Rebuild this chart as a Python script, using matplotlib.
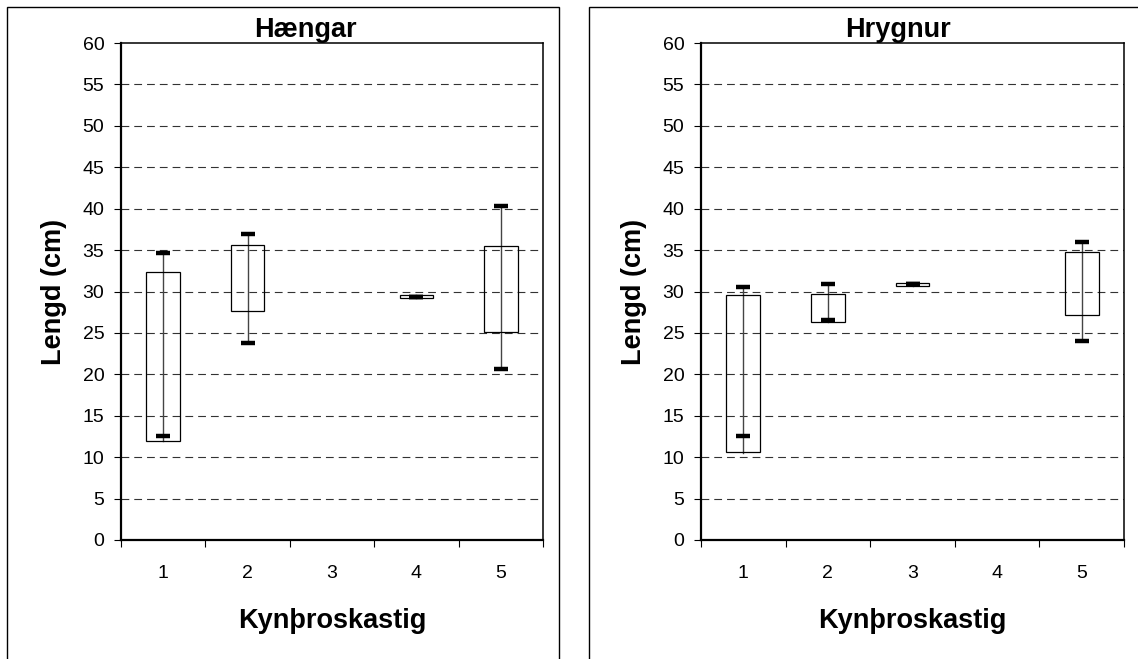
import numpy as np
import matplotlib
matplotlib.use('Agg')
import matplotlib.pyplot as plt
from matplotlib.patches import Rectangle

plt.rcParams['font.family'] = ['Liberation Sans', 'DejaVu Sans']

# kynþroskastig 1-5, NaN = engin gögn
stig = [1, 2, 3, 4, 5]

# hængar
h_box_lo = [12.0, 27.7, np.nan, 29.2, 25.1]
h_box_hi = [32.3, 35.6, np.nan, 29.6, 35.5]
h_line_lo = [12.0, 23.8, np.nan, 29.2, 20.7]
h_line_hi = [34.6, 37.0, np.nan, 29.6, 40.3]
h_mark_lo = [12.6, 23.8, np.nan, 29.35, 20.7]
h_mark_hi = [34.6, 37.0, np.nan, 29.35, 40.3]

# hrygnur
r_box_lo = [10.6, 26.35, 30.7, np.nan, 27.2]
r_box_hi = [29.55, 29.75, 31.05, np.nan, 34.75]
r_line_lo = [10.5, 26.35, 30.7, np.nan, 24.0]
r_line_hi = [30.6, 30.85, 31.05, np.nan, 36.0]
r_mark_lo = [12.5, 26.5, 30.85, np.nan, 24.0]
r_mark_hi = [30.6, 30.85, 30.85, np.nan, 36.0]

yticks = list(range(0, 61, 5))

W, H = 1138, 659
fig = plt.figure(figsize=(W / 100, H / 100), dpi=100)

# rammar utan um hvora mynd (neðri brún utan myndar)
fig.patches.append(Rectangle((7 / W, -0.1), 552 / W, (H - 7) / H + 0.1,
                             transform=fig.transFigure, fill=False, lw=1.0, ec='black'))
fig.patches.append(Rectangle((589 / W, -0.1), 0.6, (H - 7) / H + 0.1,
                             transform=fig.transFigure, fill=False, lw=1.0, ec='black'))


def teikna(ax, titill, tx, box_lo, box_hi, line_lo, line_hi, mark_lo, mark_hi):
    for y in yticks[1:-1]:
        ax.axhline(y, color='#333333', lw=0.8, ls=(0, (7, 4.5)), zorder=1)
    for i, x in enumerate(stig):
        if np.isnan(box_lo[i]):
            continue
        ax.plot([x, x], [line_lo[i], line_hi[i]], color='#444444', lw=1.0, zorder=2)
        ax.add_patch(Rectangle((x - 0.2, box_lo[i]), 0.4, box_hi[i] - box_lo[i],
                               fill=False, ec='black', lw=0.9, zorder=3))
        ax.plot([x, x], [mark_lo[i], mark_hi[i]], ls='none', marker='_',
                ms=10, mew=3.2, color='black', zorder=4)
    ax.set_xlim(0.5, 5.5)
    ax.set_ylim(0, 60)
    ax.set_yticks(yticks)
    ax.set_xticks(np.arange(0.5, 6, 1))
    ax.set_xticklabels([])
    ax.set_xticks(stig, minor=True)
    ax.set_xticklabels([str(s) for s in stig], minor=True)
    ax.tick_params(axis='x', which='major', direction='out', length=5, width=0.8)
    ax.tick_params(axis='x', which='minor', length=0, pad=18, labelsize=14)
    ax.tick_params(axis='y', direction='out', length=5, width=0.8, pad=7, labelsize=14)
    for s in ['left', 'bottom']:
        ax.spines[s].set_linewidth(1.6)
    for s in ['top', 'right']:
        ax.spines[s].set_linewidth(1.1)
    ax.set_title(titill, fontsize=19.5, fontweight='bold', pad=4, x=tx)
    ax.set_xlabel('Kynþroskastig', fontsize=19.5, fontweight='bold', labelpad=19)
    ax.set_ylabel('Lengd (cm)', fontsize=19.5, fontweight='bold', labelpad=11)


ax1 = fig.add_axes([121 / W, (H - 540) / H, 422 / W, 497 / H])
teikna(ax1, 'Hængar', 0.437, h_box_lo, h_box_hi, h_line_lo, h_line_hi, h_mark_lo, h_mark_hi)

ax2 = fig.add_axes([701 / W, (H - 540) / H, 423 / W, 497 / H])
teikna(ax2, 'Hrygnur', 0.465, r_box_lo, r_box_hi, r_line_lo, r_line_hi, r_mark_lo, r_mark_hi)

fig.savefig('out.png', dpi=100)
